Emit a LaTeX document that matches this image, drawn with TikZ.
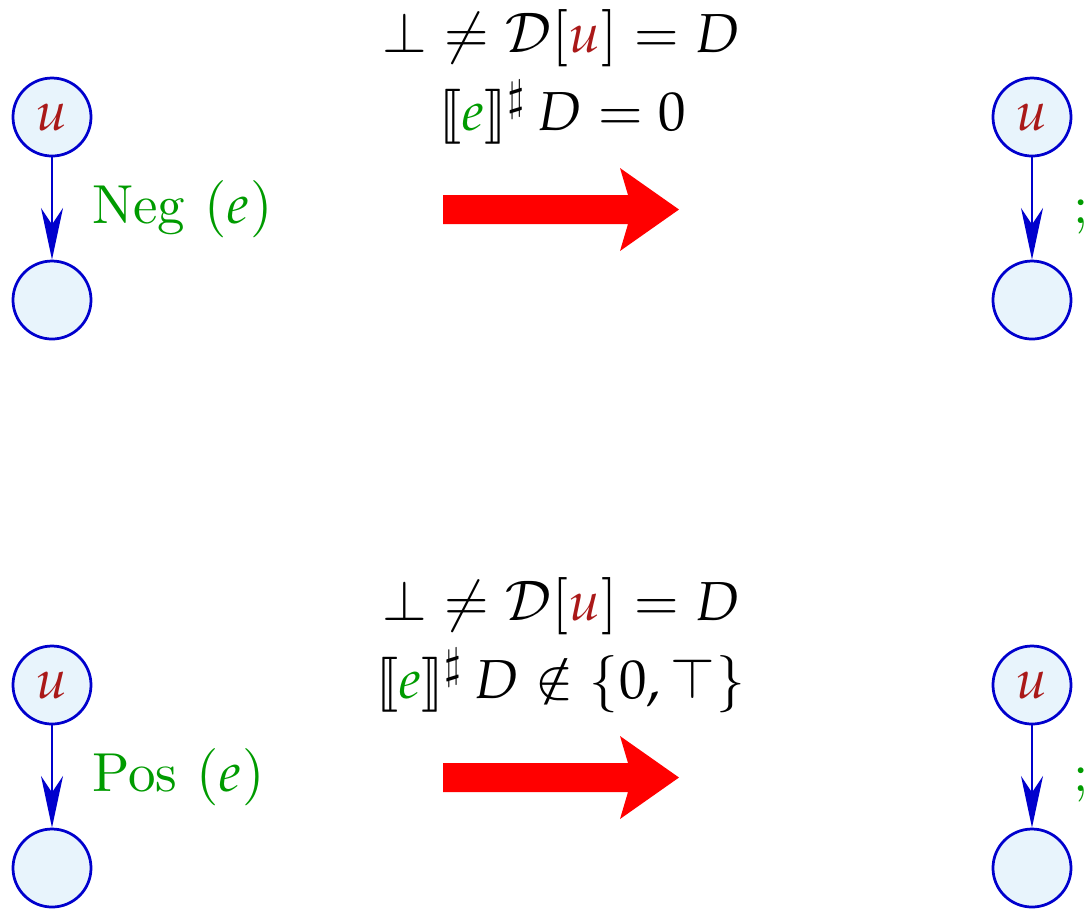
\documentclass[tikz,border=0pt]{standalone}
\usepackage{mathpazo}
\usepackage{stmaryrd}
\usetikzlibrary{arrows.meta}
\definecolor{nodefill}{RGB}{232,244,252}
\definecolor{nodeline}{RGB}{0,0,205}
\definecolor{vred}{RGB}{170,25,25}
\definecolor{egreen}{RGB}{0,155,0}
\tikzset{
  st/.style={circle,draw=nodeline,fill=nodefill,line width=0.5pt,minimum size=14.2pt,inner sep=0pt},
  edge/.style={draw=nodeline,line width=0.5pt,-{Stealth[length=9.4pt,width=4pt,inset=3pt]}},
  lab/.style={anchor=base west,inner sep=0pt,text=egreen},
  cond/.style={anchor=base,inner sep=0pt},
  bigarrow/.style={fill=red},
}
\newcommand{\uu}{\textcolor{vred}{u}}
\newcommand{\ee}{\textcolor{egreen}{e}}
\begin{document}
\begin{tikzpicture}[x=0.182pt,y=-0.182pt]
\useasboundingbox (0,0) rectangle (1084,909);
% top rule
\node[st] (a1) at (52,117) {$\uu$};
\node[st] (b1) at (52,300) {};
\draw[edge] (a1) -- (b1);
\node[lab] (l1) at (91,223) {Neg $(e)$};
\node[cond] (c1) at (561,52) {$\bot\neq\mathcal{D}[\uu]=D$};
\node[cond] (d1) at (563,130) {$\llbracket \ee\rrbracket^\sharp\,D=0$};
\fill[bigarrow] (443,195) -- (628,195) -- (620,168) -- (679,209.5) -- (620,251) -- (628,224) -- (443,224) -- cycle;
\node[st] (p1) at (1032,117) {$\uu$};
\node[st] (q1) at (1032,300) {};
\draw[edge] (p1) -- (q1);
\node[lab] (s1) at (1072,223) {;};
% bottom rule
\node[st] (a2) at (52,685) {$\uu$};
\node[st] (b2) at (52,868) {};
\draw[edge] (a2) -- (b2);
\node[lab] (l2) at (91,791) {Pos $(e)$};
\node[cond] (c2) at (561,620) {$\bot\neq\mathcal{D}[\uu]=D$};
\node[cond] (d2) at (561,698) {$\llbracket \ee\rrbracket^\sharp\,D\notin\{0,\top\}$};
\fill[bigarrow] (443,763) -- (628,763) -- (620,736) -- (679,777.5) -- (620,819) -- (628,792) -- (443,792) -- cycle;
\node[st] (p2) at (1032,685) {$\uu$};
\node[st] (q2) at (1032,868) {};
\draw[edge] (p2) -- (q2);
\node[lab] (s2) at (1072,791) {;};
\end{tikzpicture}
\end{document}
